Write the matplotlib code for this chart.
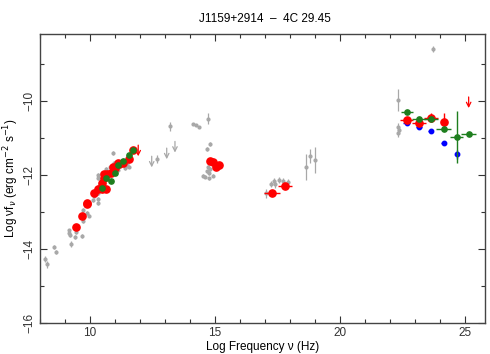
#!/usr/bin/env python3
"""SED of J1159+2914 (4C 29.45): archival (gray) plus simultaneous
epochs (red / green / blue) in log nu - log nu f_nu."""

import matplotlib
matplotlib.use("Agg")
import matplotlib.pyplot as plt
from matplotlib.ticker import MultipleLocator

plt.rcParams["font.family"] = ["Liberation Sans", "DejaVu Sans"]

RED = "#ff0000"
GREEN = "#1e7e1e"
BLUE = "#0000ff"
GRAY = "#a8a8a8"

# archival points (gray) with vertical errors
gray_x = [8.2, 8.27, 8.57, 8.63, 9.15, 9.17, 9.2, 9.23, 9.4, 9.44, 9.69, 9.71, 9.71,
          9.73, 9.9, 9.97, 10.13, 10.16, 10.33, 10.33, 10.33, 10.36, 10.33, 10.33,
          10.47, 10.64, 10.8, 10.8, 10.93, 10.96, 11.13, 11.2, 11.4, 11.43, 11.56,
          11.5, 12.69, 13.21, 14.13, 14.24, 14.37, 14.72, 14.81, 14.67, 14.51, 14.6,
          14.67, 14.73, 14.77, 14.75, 14.91, 14.8, 17.04, 17.23, 17.37, 17.4, 17.57,
          17.73, 17.93, 18.63, 18.81, 19.0, 23.73, 22.33, 22.33, 22.35, 22.33]
gray_y = [-14.27, -14.42, -13.94, -14.09, -13.5, -13.58, -13.62, -13.87, -13.68,
          -13.54, -13.65, -13.24, -13.15, -12.96, -13.04, -13.1, -12.68, -12.57,
          -12.65, -12.76, -12.5, -12.3, -12.0, -12.1, -11.95, -11.85, -11.95, -11.78,
          -11.41, -11.68, -11.86, -11.75, -11.82, -11.76, -11.78, -11.7, -11.57,
          -10.69, -10.62, -10.66, -10.7, -10.49, -11.17, -11.3, -12.02, -12.05,
          -11.91, -11.79, -11.95, -12.1, -12.02, -11.84, -12.5, -12.25, -12.18,
          -12.26, -12.14, -12.18, -12.2, -11.78, -11.5, -11.6, -8.6, -9.99, -10.7,
          -10.8, -10.87]
gray_err = [0.08, 0.1, 0.05, 0.05, 0.05, 0.05, 0.05, 0.07, 0.05, 0.05, 0.06, 0.05,
            0.05, 0.05, 0.05, 0.05, 0.05, 0.05, 0.05, 0.05, 0.05, 0.05, 0.05, 0.05,
            0.05, 0.05, 0.05, 0.05, 0.05, 0.05, 0.05, 0.05, 0.05, 0.05, 0.05, 0.05,
            0.1, 0.12, 0.02, 0.02, 0.02, 0.15, 0.05, 0.05, 0.05, 0.05, 0.05, 0.05,
            0.05, 0.05, 0.05, 0.05, 0.12, 0.08, 0.1, 0.1, 0.08, 0.08, 0.08, 0.35,
            0.19, 0.34, 0.08, 0.3, 0.1, 0.1, 0.1]

# archival upper limits (gray)
gray_ul_x = [12.47, 13.07, 13.4]
gray_ul_y = [-11.5, -11.28, -11.1]

# red epoch
red_x = [9.43, 9.69, 9.9, 9.9, 10.15, 10.33, 10.47, 10.64, 10.47, 10.56, 10.56,
         10.67, 10.84, 10.93, 11.0, 11.13, 11.17, 11.33, 11.55, 11.73, 14.8, 14.91,
         15.04, 15.15, 17.27, 17.8, 22.67, 23.17, 23.64, 24.16]
red_y = [-13.4, -13.1, -12.75, -12.8, -12.5, -12.39, -12.39, -12.39, -12.21, -12.09,
         -11.98, -11.98, -11.95, -11.8, -11.81, -11.67, -11.7, -11.67, -11.58, -11.34,
         -11.63, -11.65, -11.78, -11.74, -12.5, -12.3, -10.51, -10.59, -10.46, -10.57]
red_xerr = [0] * 24 + [0.32, 0.27, 0.25, 0.28, 0.28, 0.1]
red_yerr = [0] * 28 + [0.12, 0.25]
red_ul_x = [11.93, 25.15]
red_ul_y = [-11.2, -9.9]

# green epoch
green_x = [10.47, 10.84, 10.64, 11.0, 11.13, 11.33, 11.55, 11.73, 22.67, 23.17,
           23.64, 24.16, 24.67, 25.15]
green_y = [-12.36, -12.18, -12.09, -11.95, -11.74, -11.62, -11.47, -11.32, -10.3,
           -10.49, -10.49, -10.76, -10.97, -10.89]
green_xerr = [0, 0, 0, 0, 0, 0, 0, 0, 0.24, 0.27, 0.27, 0.3, 0.25, 0.3]
green_yerr = [0, 0, 0, 0, 0, 0, 0, 0, 0.05, 0.05, 0.05, 0.05, 0.7, 0.05]

# blue epoch
blue_x = [22.67, 23.17, 23.64, 24.16, 24.67]
blue_y = [-10.59, -10.72, -10.81, -11.13, -11.45]
blue_xerr = [0.15, 0.12, 0.1, 0.1, 0.05]
blue_yerr = [0.03, 0.03, 0.03, 0.03, 0.12]


def main():
    fig = plt.figure(figsize=(4.9, 3.54), dpi=100)
    ax = fig.add_axes([0.0816, 0.0876, 0.908, 0.8164])

    ax.errorbar(gray_x, gray_y, yerr=gray_err, fmt="o", ms=2.0, color=GRAY,
                ecolor=GRAY, elinewidth=0.9, capsize=0, zorder=2)
    for x, y in zip(gray_ul_x, gray_ul_y):
        ax.annotate("", xy=(x, y - 0.3), xytext=(x, y),
                    arrowprops=dict(arrowstyle="->", color=GRAY, lw=0.9,
                                    shrinkA=0, shrinkB=0, mutation_scale=8))

    ax.errorbar(blue_x, blue_y, xerr=blue_xerr, yerr=blue_yerr, fmt="o", ms=3.2,
                color=BLUE, ecolor=BLUE, elinewidth=1.0, capsize=0, zorder=3)
    ax.errorbar(red_x, red_y, xerr=red_xerr, yerr=red_yerr, fmt="o", ms=5.2,
                color=RED, ecolor=RED, elinewidth=1.0, capsize=0, zorder=4)
    for x, y in zip(red_ul_x, red_ul_y):
        ax.annotate("", xy=(x, y - 0.3), xytext=(x, y),
                    arrowprops=dict(arrowstyle="->", color=RED, lw=0.9,
                                    shrinkA=0, shrinkB=0, mutation_scale=8))
    ax.errorbar(green_x, green_y, xerr=green_xerr, yerr=green_yerr, fmt="o", ms=3.8,
                color=GREEN, ecolor=GREEN, elinewidth=1.0, capsize=0, zorder=5)

    ax.set_xlim(8, 25.8)
    ax.set_ylim(-16, -8.2)
    ax.xaxis.set_major_locator(MultipleLocator(5))
    ax.xaxis.set_minor_locator(MultipleLocator(1))
    ax.yaxis.set_major_locator(MultipleLocator(2))
    ax.yaxis.set_minor_locator(MultipleLocator(1))
    ax.tick_params(which="both", direction="in", top=True, right=True,
                   labelsize=8.5, colors="#333333", pad=3)
    ax.tick_params(which="major", length=5, width=0.8)
    ax.tick_params(which="minor", length=3, width=0.8)
    for lbl in ax.get_yticklabels():
        lbl.set_rotation(90)
        lbl.set_va("center")
    for sp in ax.spines.values():
        sp.set_color("#444444")
        sp.set_linewidth(1.0)

    ax.set_xlabel("Log Frequency \u03bd (Hz)", fontsize=8.5, labelpad=1)
    ax.set_ylabel("Log \u03bdf$_\\nu$ (erg cm$^{-2}$ s$^{-1}$)", fontsize=8.5, labelpad=2)
    fig.text(0.54, 0.945, "J1159+2914  \u2013  4C 29.45", ha="center",
             va="center", fontsize=8.5)

    fig.savefig("out.png", dpi=100)


if __name__ == "__main__":
    main()
